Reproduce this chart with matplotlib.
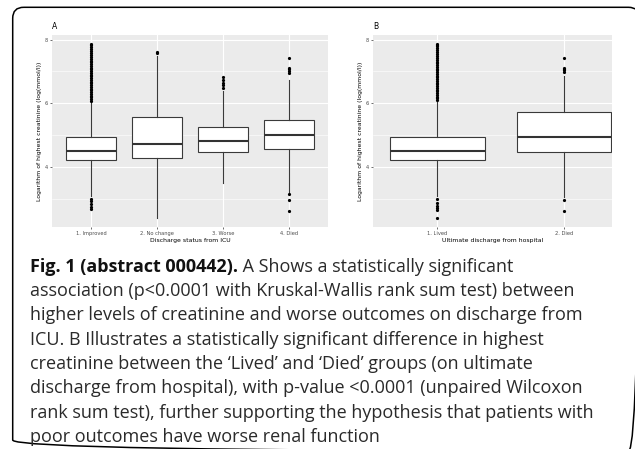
import matplotlib
matplotlib.use("Agg")
import matplotlib.pyplot as plt
from matplotlib.patches import FancyBboxPatch
from matplotlib.ticker import FixedLocator

W, H = 635, 449

# ---- data (log of highest creatinine) ----
icu_labels = ["1. Improved", "2. No change", "3. Worse", "4. Died"]
icu_q1 = [4.20, 4.29, 4.45, 4.55]
icu_med = [4.50, 4.71, 4.80, 5.00]
icu_q3 = [4.94, 5.57, 5.24, 5.48]
icu_whislo = [3.08, 2.38, 3.50, 3.21]
icu_whishi = [6.05, 7.50, 6.39, 6.72]
icu_fliers = [
    [6.08, 6.13, 6.18, 6.24, 6.29, 6.35, 6.40, 6.46, 6.51, 6.57, 6.62, 6.68,
     6.73, 6.79, 6.84, 6.90, 6.95, 7.01, 7.06, 7.12, 7.17, 7.23, 7.28, 7.34,
     7.40, 7.46, 7.52, 7.58, 7.64, 7.70, 7.76, 7.82, 7.87,
     3.00, 2.92, 2.84, 2.74, 2.66],
    [7.58, 7.62],
    [6.49, 6.57, 6.65, 6.73, 6.83],
    [6.96, 7.02, 7.08, 7.12, 7.43, 3.13, 2.97, 2.62],
]

hosp_labels = ["1. Lived", "2. Died"]
hosp_q1 = [4.20, 4.47]
hosp_med = [4.50, 4.93]
hosp_q3 = [4.94, 5.71]
hosp_whislo = [3.08, 3.05]
hosp_whishi = [6.08, 6.85]
hosp_fliers = [
    [6.11, 6.16, 6.21, 6.27, 6.32, 6.38, 6.43, 6.49, 6.54, 6.60, 6.65, 6.71,
     6.76, 6.82, 6.87, 6.93, 6.98, 7.04, 7.09, 7.15, 7.20, 7.26, 7.31, 7.37,
     7.43, 7.49, 7.55, 7.61, 7.67, 7.73, 7.79, 7.84, 7.87,
     3.00, 2.85, 2.78, 2.70, 2.64, 2.38],
    [6.98, 7.03, 7.08, 7.12, 7.43, 2.97, 2.62],
]

caption_bold = "Fig. 1 (abstract 000442)."
caption_first = " A Shows a statistically significant"
caption_lines = [
    "association (p<0.0001 with Kruskal-Wallis rank sum test) between",
    "higher levels of creatinine and worse outcomes on discharge from",
    "ICU. B Illustrates a statistically significant difference in highest",
    "creatinine between the \u2018Lived\u2019 and \u2018Died\u2019 groups (on ultimate",
    "discharge from hospital), with p-value <0.0001 (unpaired Wilcoxon",
    "rank sum test), further supporting the hypothesis that patients with",
    "poor outcomes have worse renal function",
]

fig = plt.figure(figsize=(W / 100, H / 100), dpi=100)


def px_axes(x0, y0, x1, y1, **kw):
    return fig.add_axes([x0 / W, 1 - y1 / H, (x1 - x0) / W, (y1 - y0) / H], **kw)


# background layer in pixel units (frame + caption)
bg = px_axes(0, 0, W, H)
bg.set_xlim(0, W)
bg.set_ylim(H, 0)
bg.axis("off")
# rounded frame, right and bottom edges fall just outside the canvas
frame = FancyBboxPatch((12.7, 7.3), 639.5 - 12.7, 451 - 7.3,
                       boxstyle="round,pad=0,rounding_size=11",
                       fc="none", ec="black", lw=1.1)
bg.add_patch(frame)


def draw_panel(ax, labels, q1, med, q3, lo, hi, fliers, xlim, letter, xlabel):
    stats = []
    for i in range(len(labels)):
        stats.append(dict(q1=q1[i], med=med[i], q3=q3[i], whislo=lo[i],
                          whishi=hi[i], fliers=fliers[i]))
    ax.set_facecolor("#EBEBEB")
    ax.bxp(stats, positions=range(1, len(labels) + 1), widths=0.75,
           patch_artist=True, showcaps=False,
           boxprops=dict(facecolor="white", edgecolor="#3a3a3a", lw=0.8),
           medianprops=dict(color="#333333", lw=1.5),
           whiskerprops=dict(color="#3a3a3a", lw=0.8),
           flierprops=dict(marker="o", markersize=2.3, markerfacecolor="black",
                           markeredgecolor="none"),
           zorder=3)
    ax.set_xlim(*xlim)
    ax.set_ylim(2.105, 8.145)
    ax.set_yticks([4, 6, 8])
    ax.yaxis.set_minor_locator(FixedLocator([3, 5, 7]))
    ax.set_xticks(range(1, len(labels) + 1))
    ax.set_xticklabels(labels)
    ax.grid(True, which="major", color="white", lw=0.8)
    ax.grid(True, which="minor", axis="y", color="white", lw=0.4)
    ax.set_axisbelow(True)
    for s in ax.spines.values():
        s.set_visible(False)
    ax.tick_params(which="major", length=1.6, width=0.5, color="#333333",
                   labelsize=3.7, labelcolor="#4D4D4D", pad=1.2)
    ax.tick_params(which="minor", length=0)
    ax.set_xlabel(xlabel, fontsize=4.4, labelpad=1.8)
    ax.set_ylabel("Logarithm of highest creatinine (log(mmol/l))",
                  fontsize=4.4, labelpad=1.8)
    ax.text(0.0, 1.045, letter, transform=ax.transAxes, fontsize=5.5,
            ha="left", va="center")


axA = px_axes(52, 35, 328, 227)
draw_panel(axA, icu_labels, icu_q1, icu_med, icu_q3, icu_whislo, icu_whishi,
           icu_fliers, (0.41, 4.59), "A", "Discharge status from ICU")

axB = px_axes(373, 35, 612, 227)
draw_panel(axB, hosp_labels, hosp_q1, hosp_med, hosp_q3, hosp_whislo,
           hosp_whishi, hosp_fliers, (0.49, 2.38), "B",
           "Ultimate discharge from hospital")

# caption
cap_font = "Open Sans"
cap_size = 13.0
x0, base, step = 30.5, 271.7, 24.3
tb = bg.text(x0, base, caption_bold, fontsize=cap_size, family=cap_font,
             fontweight="bold", va="baseline", ha="left", color="#111111")
fig.canvas.draw()
bb = tb.get_window_extent()
x1 = bb.x1 * W / fig.bbox.width
bg.text(x1, base, caption_first, fontsize=cap_size, family=cap_font,
        va="baseline", ha="left", color="#2a2a2a")
for i, line in enumerate(caption_lines):
    bg.text(x0, base + (i + 1) * step, line, fontsize=cap_size,
            family=cap_font, va="baseline", ha="left", color="#2a2a2a")

fig.savefig("out.png", dpi=100)
